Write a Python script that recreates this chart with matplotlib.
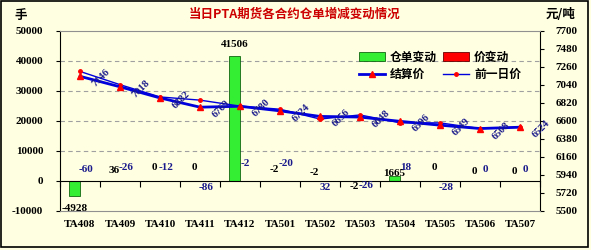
import matplotlib.pyplot as plt
from matplotlib.patches import Rectangle
from matplotlib.ticker import FuncFormatter
import numpy as np

plt.rcParams['font.family'] = ['Liberation Serif', 'Noto Sans CJK SC']

# data
contracts = ["TA408", "TA409", "TA410", "TA411", "TA412", "TA501",
             "TA502", "TA503", "TA504", "TA505", "TA506", "TA507"]
receipt_change = [-4928, 36, 0, 0, 41506, -2, -2, -2, 1665, 0, 0, 0]
price_change = [-60, -26, -12, -86, -2, -20, 32, -26, 18, -28, 0, 0]
settle = [7146, 7018, 6882, 6769, 6780, 6724, 6656, 6648, 6596, 6549, 6508, 6524]
prev_day = [7206, 7044, 6894, 6855, 6782, 6744, 6624, 6674, 6578, 6577, 6508, 6524]

# label nudges in pixels (style only)
recv_dy = [-13, 10, 13, 13, 12, 12, 9, -5, 3, 13, 9, 9]
price_dy = [12, 13, 13, -6, 18, 18, -6, -5, 13, -6, 12, 12]

BG = "#FFFFE1"
PX = 0.72  # pixel -> points at dpi 100

fig = plt.figure(figsize=(5.91, 2.5), dpi=100)
fig.patch.set_facecolor(BG)
ax = fig.add_axes([60/591, 1-211/250, 480/591, 180/250])
ax.set_facecolor(BG)

x = np.arange(len(contracts))
w = 0.28

ax.bar(x - w/2, receipt_change, w, color="#33EE33", edgecolor="#116611",
       linewidth=0.6, label="仓单变动", zorder=2)
ax.bar(x + w/2, price_change, w, color="#FF0000", edgecolor="#660000",
       linewidth=0.6, label="价变动", zorder=2)

for i in range(len(contracts)):
    ax.annotate(str(receipt_change[i]), (x[i] - w/2, receipt_change[i]),
                xytext=(0, recv_dy[i]*PX), textcoords="offset points",
                ha="center", va="center", fontsize=8, fontweight="bold",
                color="black", zorder=5)
    ax.annotate(str(price_change[i]), (x[i] + w/2, 0),
                xytext=(0, price_dy[i]*PX), textcoords="offset points",
                ha="center", va="center", fontsize=8, fontweight="bold",
                color="#1A1A8C", zorder=5)

ax.set_xlim(-0.5, len(contracts) - 0.5)
ax.set_ylim(-10000, 50000)
ax.set_yticks(range(-10000, 50001, 10000))
ax.yaxis.set_major_formatter(FuncFormatter(lambda v, p: "%d" % v))
for yv in range(10000, 50000, 10000):
    ax.axhline(yv, color="#A0A0A0", lw=0.8, ls=(0, (4, 3)), zorder=1)

# category axis sits on zero, labels at the bottom
ax.spines["bottom"].set_position(("data", 0))
ax.spines["bottom"].set_color("black")
ax.set_xticks(np.arange(-0.5, len(contracts), 1.0))
ax.set_xticklabels([])
ax.tick_params(axis="x", direction="out", length=4, width=0.8)
ax.spines["top"].set_visible(False)
ax.spines["right"].set_visible(False)
for i, c in enumerate(contracts):
    ax.text(i, -0.075, c, transform=ax.get_xaxis_transform(), ha="center",
            va="center", fontsize=8, fontweight="bold")

ax.tick_params(axis="y", direction="out", length=3, pad=9, labelsize=8)
for t in ax.get_yticklabels():
    t.set_fontweight("bold")

ax2 = ax.twinx()
ax2.plot(x, settle, color="#0000DD", lw=2, marker="^", markersize=5,
         markerfacecolor="#FF0000", markeredgecolor="#FF0000", label="结算价",
         zorder=4)
ax2.plot(x, prev_day, color="#0000DD", lw=1, marker="o", markersize=2.5,
         markerfacecolor="#FF0000", markeredgecolor="#FF0000", label="前一日价",
         zorder=3)
for i in range(len(contracts)):
    ax2.annotate(str(settle[i]), (x[i], settle[i]), xytext=(21*PX, -2*PX),
                 textcoords="offset points", rotation=45, ha="center",
                 va="center", fontsize=7.5, fontweight="bold", color="#1A1A8C",
                 zorder=6)
ax2.set_ylim(5500, 7700)
ax2.set_yticks(range(5500, 7701, 220))
ax2.tick_params(axis="y", direction="out", length=3, pad=8, labelsize=8)
for t in ax2.get_yticklabels():
    t.set_fontweight("bold")
ax2.spines["top"].set_color("#909090")
ax2.spines["bottom"].set_color("#909090")
ax2.spines["left"].set_visible(False)
ax2.spines["right"].set_color("black")

h1, l1 = ax.get_legend_handles_labels()
h2, l2 = ax2.get_legend_handles_labels()
handles = [h1[0], h2[0], h1[1], h2[1]]
labels = [l1[0], l2[0], l1[1], l2[1]]
leg = ax2.legend(handles, labels, ncol=2, loc="upper left",
                 bbox_to_anchor=(0.6, 0.95), frameon=False,
                 prop={"family": "Noto Sans CJK SC", "size": 8.5, "weight": "bold"},
                 handlelength=2.2, handleheight=0.8, columnspacing=0.6,
                 handletextpad=0.4, labelspacing=0.4)

fig.text(295/591, 1-14/250, "当日PTA期货各合约仓单增减变动情况",
         ha="center", va="center", color="#CC0000", fontsize=9,
         fontweight="bold", family=["Noto Sans CJK SC"])
fig.text(14/591, 1-15/250, "手", ha="left", va="center", fontsize=9,
         fontweight="bold", family=["Noto Sans CJK SC"])
fig.text(575/591, 1-15/250, "元/吨", ha="right", va="center", fontsize=9,
         fontweight="bold", family=["Noto Sans CJK SC"])

fig.add_artist(Rectangle((1/591, 3/250), 587/591, 246/250, transform=fig.transFigure,
                         fill=False, edgecolor="black", lw=1.2))

fig.savefig("out.png", dpi=100, facecolor=BG)
